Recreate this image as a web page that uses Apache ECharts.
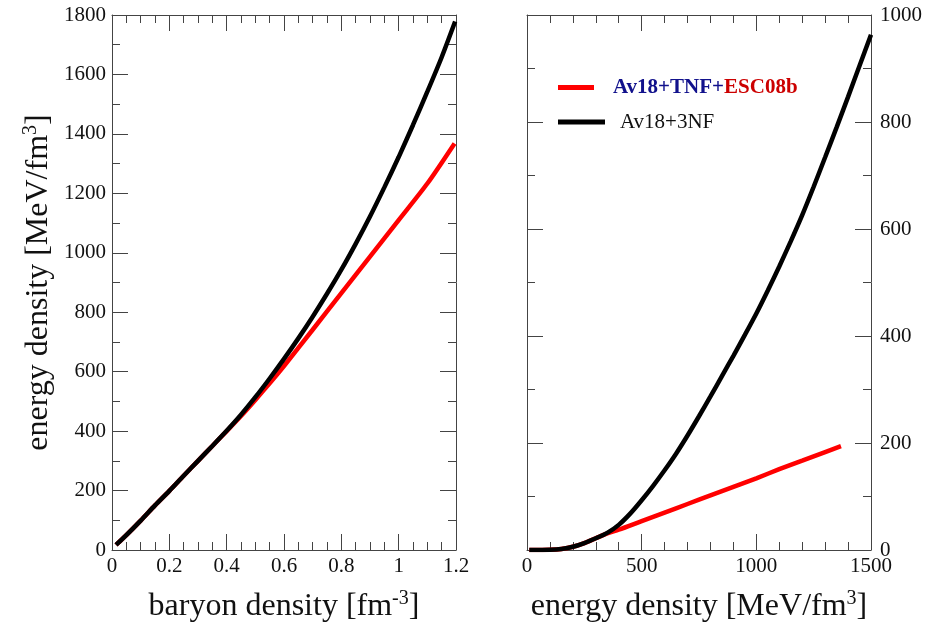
<!DOCTYPE html>
<html><head><meta charset="utf-8">
<script src="https://cdn.jsdelivr.net/npm/echarts@6/dist/echarts.min.js"></script>
<style>html,body{margin:0;padding:0;background:#fff}#c{width:927px;height:627px}</style>
</head><body><div id="c"></div>
<script>
// ---- data ----
const seriesNames = ['Av18+TNF+ESC08b', 'Av18+3NF'];

// Left panel: energy density vs baryon density
const leftBlackRho = [0.014,0.05,0.1,0.15,0.2,0.25,0.3,0.35,0.4,0.45,0.5,0.55,0.6,0.65,0.7,0.75,0.8,0.85,0.9,0.95,1.0,1.05,1.1,1.15,1.197];
const leftBlackE   = [17,50,99,150,199,250,300,350,401,455,514,577,643,712,785,862,943,1030,1122,1220,1322,1430,1542,1658,1778];
const leftRedRho   = [0.014,0.05,0.1,0.15,0.2,0.25,0.3,0.35,0.4,0.45,0.5,0.55,0.6,0.7,0.8,0.9,1.0,1.1,1.195];
const leftRedE     = [17,50,99,150,199,250,300,350,400,451,505,561,619,741,864,987,1110,1233,1368];

// Right panel: pressure vs energy density
const rightBlackEps = [10,100,150,200,250,300,350,400,450,500,550,600,650,700,750,800,850,900,950,1000,1050,1100,1150,1200,1250,1300,1350,1400,1450,1500];
const rightBlackP   = [0,0.5,2,6,13,22,32,47,68,93,120,149,180,214,250,287,325,363,402,442,485,530,577,626,679,734,790,847,905,963];
const rightRedEps   = [10,100,150,200,250,300,350,400,500,600,700,800,900,1000,1100,1200,1300,1369];
const rightRedP     = [0,0.5,2,6,13,22,31,38,54,70,86,102,118,134,151,167,183,194];

// tick settings
const leftXTicks = {min:0, max:1.2, interval:0.2, minor:4};
const leftYTicks = {min:0, max:1800, interval:200, minor:2};
const rightXTicks = {min:0, max:1500, interval:500, minor:5};
const rightYTicks = {min:0, max:1000, interval:200, minor:2};

// ---- chart ----
const FONT = '"Liberation Serif","Times New Roman",serif';
const AX = '#444';
const zip = (a, b) => a.map((v, i) => [v, b[i]]);
const plain = v => String(Math.round(v * 1000) / 1000);

function axis(gridIndex, position, t, showLabel, extra) {
  return Object.assign({
    type: 'value', gridIndex, position,
    min: t.min, max: t.max, interval: t.interval,
    axisLine: {show: true, onZero: false, lineStyle: {color: AX, width: 1}},
    axisTick: {show: true, inside: true, length: 16, lineStyle: {color: AX, width: 1}},
    minorTick: {show: true, splitNumber: t.minor, length: 8, lineStyle: {color: AX, width: 1}},
    splitLine: {show: false}, minorSplitLine: {show: false},
    axisLabel: {show: showLabel, color: '#111', fontFamily: FONT, fontSize: 21, margin: 6, formatter: plain},
    axisPointer: {show: false}
  }, extra || {});
}

const nameStyle = {
  color: '#111', fontFamily: FONT, fontSize: 32, lineHeight: 36,
  rich: {sup: {fontFamily: FONT, fontSize: 20, lineHeight: 20, verticalAlign: 'top', color: '#111'}}
};

const lineSeries = (name, xi, yi, xs, ys, color, z) => ({
  name, type: 'line', xAxisIndex: xi, yAxisIndex: yi, data: zip(xs, ys),
  smooth: 0.25, showSymbol: false, symbol: 'none', color,
  lineStyle: {width: 4.5, color}, z
});

const chart = echarts.init(document.getElementById('c'), null, {renderer: 'canvas'});
chart.setOption({
  animation: false,
  backgroundColor: '#fff',
  grid: [
    {left: 112, top: 15, width: 344, height: 535, containLabel: false, outerBoundsMode: 'none'},
    {left: 527, top: 15, width: 344, height: 535, containLabel: false, outerBoundsMode: 'none'}
  ],
  xAxis: [
    axis(0, 'bottom', leftXTicks, true, {name: 'baryon density [fm{sup|-3}]', nameLocation: 'middle', nameGap: 39, nameTextStyle: nameStyle}),
    axis(0, 'top', leftXTicks, false),
    axis(1, 'bottom', rightXTicks, true, {name: 'energy density [MeV/fm{sup|3}]', nameLocation: 'middle', nameGap: 39, nameTextStyle: nameStyle}),
    axis(1, 'top', rightXTicks, false)
  ],
  yAxis: [
    axis(0, 'left', leftYTicks, true, {name: 'energy density [MeV/fm{sup|3}]', nameLocation: 'middle', nameGap: 55, nameRotate: 90, nameTextStyle: nameStyle}),
    axis(0, 'right', leftYTicks, false),
    axis(1, 'right', rightYTicks, true, {axisLabel: {show: true, color: '#111', fontFamily: FONT, fontSize: 21, margin: 9, formatter: plain}}),
    axis(1, 'left', rightYTicks, false)
  ],
  legend: [
    {
      data: [seriesNames[0]], left: 558, top: 77, padding: 0, selectedMode: false,
      icon: 'rect', itemWidth: 36, itemHeight: 5,
      formatter: () => '{a|Av18+TNF+}{b|ESC08b}',
      textStyle: {
        fontFamily: FONT, fontSize: 21, padding: [0, 0, 0, 14],
        rich: {
          a: {color: '#11118c', fontWeight: 'bold', fontFamily: FONT, fontSize: 21, lineHeight: 24},
          b: {color: '#cc0000', fontWeight: 'bold', fontFamily: FONT, fontSize: 21, lineHeight: 24}
        }
      }
    },
    {
      data: [seriesNames[1]], left: 558, top: 110, padding: 0, selectedMode: false,
      icon: 'rect', itemWidth: 47, itemHeight: 5,
      textStyle: {fontFamily: FONT, fontSize: 21, lineHeight: 24, color: '#111', padding: [0, 0, 0, 10]}
    }
  ],
  series: [
    lineSeries(seriesNames[0], 0, 0, leftRedRho, leftRedE, '#ff0000', 2),
    lineSeries(seriesNames[1], 0, 0, leftBlackRho, leftBlackE, '#000000', 3),
    lineSeries(seriesNames[0], 2, 2, rightRedEps, rightRedP, '#ff0000', 2),
    lineSeries(seriesNames[1], 2, 2, rightBlackEps, rightBlackP, '#000000', 3)
  ]
});
</script>
</body></html>
